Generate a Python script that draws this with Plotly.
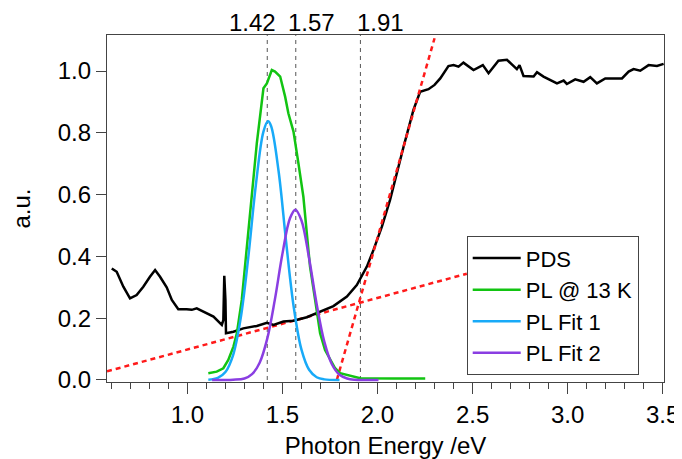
import plotly.graph_objects as go

# ---------------- data ----------------
pds_x = [0.602, 0.628, 0.663, 0.698, 0.733, 0.768, 0.803, 0.830, 0.856, 0.891, 0.918, 0.952,
         0.996, 1.023, 1.049, 1.084, 1.137, 1.181, 1.189, 1.194, 1.200, 1.203, 1.242, 1.294,
         1.365, 1.418, 1.453, 1.505, 1.558, 1.628, 1.698, 1.768, 1.839, 1.891, 1.944, 1.979,
         2.023, 2.066, 2.137, 2.189, 2.224, 2.268, 2.300, 2.330, 2.373, 2.400, 2.426, 2.452,
         2.505, 2.554, 2.584, 2.636, 2.681, 2.733, 2.747, 2.768, 2.821, 2.839, 2.873, 2.944,
         2.979, 2.996, 3.040, 3.084, 3.119, 3.154, 3.198, 3.242, 3.286, 3.321, 3.347, 3.382,
         3.426, 3.470, 3.505]
pds_y = [0.361, 0.350, 0.302, 0.264, 0.275, 0.302, 0.334, 0.356, 0.334, 0.300, 0.259, 0.229,
         0.229, 0.227, 0.232, 0.221, 0.205, 0.178, 0.194, 0.337, 0.259, 0.151, 0.156, 0.167,
         0.175, 0.185, 0.178, 0.189, 0.192, 0.203, 0.221, 0.239, 0.270, 0.307, 0.367, 0.421,
         0.496, 0.583, 0.755, 0.874, 0.933, 0.941, 0.955, 0.976, 1.016, 1.019, 1.014, 1.027,
         1.003, 1.019, 0.993, 1.033, 1.036, 1.006, 1.019, 0.984, 0.982, 0.996, 0.982, 0.960,
         0.969, 0.958, 0.973, 0.965, 0.980, 0.960, 0.976, 0.976, 0.976, 0.998, 1.006, 1.001,
         1.019, 1.016, 1.023]

pl_x = [1.110, 1.154, 1.189, 1.215, 1.242, 1.260, 1.286, 1.303, 1.321, 1.339, 1.365, 1.400,
        1.418, 1.444, 1.461, 1.488, 1.514, 1.531, 1.558, 1.584, 1.610, 1.628, 1.645, 1.672,
        1.698, 1.724, 1.751, 1.777, 1.803, 1.909, 2.082, 2.251]
pl_y = [0.022, 0.027, 0.038, 0.065, 0.108, 0.151, 0.259, 0.367, 0.475, 0.583, 0.766, 0.944,
        0.960, 1.003, 0.998, 0.982, 0.917, 0.863, 0.804, 0.701, 0.593, 0.475, 0.367, 0.259,
        0.151, 0.097, 0.065, 0.038, 0.022, 0.006, 0.005, 0.005]

fit1_x = [1.11, 1.16, 1.20, 1.24, 1.28, 1.32, 1.36, 1.40, 1.424, 1.44, 1.48, 1.52, 1.56,
          1.60, 1.64, 1.68, 1.72, 1.80]
fit1_y = [0.001, 0.007, 0.026, 0.080, 0.199, 0.396, 0.631, 0.804, 0.837, 0.822, 0.674,
          0.442, 0.233, 0.098, 0.033, 0.009, 0.002, 0.000]

fit2_x = [1.13, 1.24, 1.30, 1.34, 1.38, 1.42, 1.46, 1.50, 1.54, 1.568, 1.60, 1.64, 1.68,
          1.72, 1.76, 1.80, 1.84, 1.88, 1.94, 2.005]
fit2_y = [0.000, 0.001, 0.005, 0.019, 0.056, 0.134, 0.260, 0.409, 0.524, 0.551, 0.516,
          0.394, 0.245, 0.124, 0.051, 0.017, 0.005, 0.001, 0.000, 0.000]

# linear fits (tangent lines)
edge_x = [1.786, 2.300]
edge_y = [0.000, 1.106]
tail_x = [0.577, 2.47]
tail_y = [0.028, 0.344]

marker_energies = [1.42, 1.57, 1.91]
marker_labels = ["1.42", "1.57", "1.91"]

x_range = [0.577, 3.507]
y_range = [-0.0065, 1.1165]
y_ticks = [0.0, 0.2, 0.4, 0.6, 0.8, 1.0]
x_ticks = [1.0, 1.5, 2.0, 2.5, 3.0, 3.5]

# ---------------- figure ----------------
FONT = "Liberation Sans, Arial, sans-serif"
AX = "#444444"
FS = 24

fig = go.Figure()

for e in marker_energies:
    fig.add_trace(go.Scatter(x=[e, e], y=[0.0, y_range[1]], mode="lines",
                             line=dict(color="#555555", width=1, dash="4px,4px"),
                             showlegend=False, hoverinfo="skip"))

fig.add_trace(go.Scatter(x=tail_x, y=tail_y, mode="lines",
                         line=dict(color="#ff1a1a", width=2.5, dash="5px,4px"),
                         showlegend=False))
fig.add_trace(go.Scatter(x=pds_x, y=pds_y, mode="lines", name="PDS",
                         line=dict(color="black", width=2.5)))
fig.add_trace(go.Scatter(x=edge_x, y=edge_y, mode="lines",
                         line=dict(color="#ff1a1a", width=2.5, dash="5px,4px"),
                         showlegend=False))
fig.add_trace(go.Scatter(x=pl_x, y=pl_y, mode="lines", name="PL @ 13 K",
                         line=dict(color="#12c412", width=2.5)))
fig.add_trace(go.Scatter(x=fit1_x, y=fit1_y, mode="lines", name="PL Fit 1",
                         line=dict(color="#18aaf8", width=2.5, shape="spline")))
fig.add_trace(go.Scatter(x=fit2_x, y=fit2_y, mode="lines", name="PL Fit 2",
                         line=dict(color="#8a3ee2", width=2.5, shape="spline")))

for e, lab, dx in zip(marker_energies, marker_labels, [-15, 16, 20]):
    fig.add_annotation(x=e, y=1, xref="x", yref="paper", text=lab, showarrow=False,
                       xanchor="center", yanchor="bottom", xshift=dx, yshift=-3,
                       font=dict(size=FS, color="black", family=FONT))

# page body has an 8px default margin, so the figure is drawn 8px smaller
fig.update_layout(
    template="none",
    width=674, height=451,
    margin=dict(l=99, r=18, t=27, b=77),
    paper_bgcolor="white", plot_bgcolor="white",
    font=dict(family=FONT, size=FS, color="black"),
    showlegend=True,
    legend=dict(x=0.6458, y=0.42, xanchor="left", yanchor="top",
                bgcolor="white", bordercolor="#444444", borderwidth=1,
                font=dict(size=22, family=FONT, color="black"),
                itemwidth=48, tracegroupgap=0),
    xaxis=dict(range=x_range, tickvals=x_ticks, ticktext=[f"{v:.1f}" for v in x_ticks],
               ticks="outside", ticklen=11, tickwidth=1, tickcolor=AX,
               showline=True, linecolor=AX, linewidth=1.2, mirror=True,
               showgrid=False, zeroline=False, automargin=False,
               minor=dict(dtick=0.1, ticks="outside", ticklen=6, tickcolor=AX, tickwidth=1,
                          showgrid=False),
               title=dict(text="Photon Energy /eV", standoff=14,
                          font=dict(size=FS, family=FONT)),
               tickfont=dict(size=FS, family=FONT)),
    yaxis=dict(range=y_range, tickvals=y_ticks, ticktext=[f"{v:.1f}" for v in y_ticks],
               ticks="outside", ticklen=10, tickwidth=1, tickcolor=AX,
               showline=True, linecolor=AX, linewidth=1.2, mirror=True,
               showgrid=False, zeroline=False, automargin=False,
               title=dict(text="a.u.", standoff=33, font=dict(size=FS, family=FONT)),
               tickfont=dict(size=FS, family=FONT)),
)

fig.write_html("out.html")
